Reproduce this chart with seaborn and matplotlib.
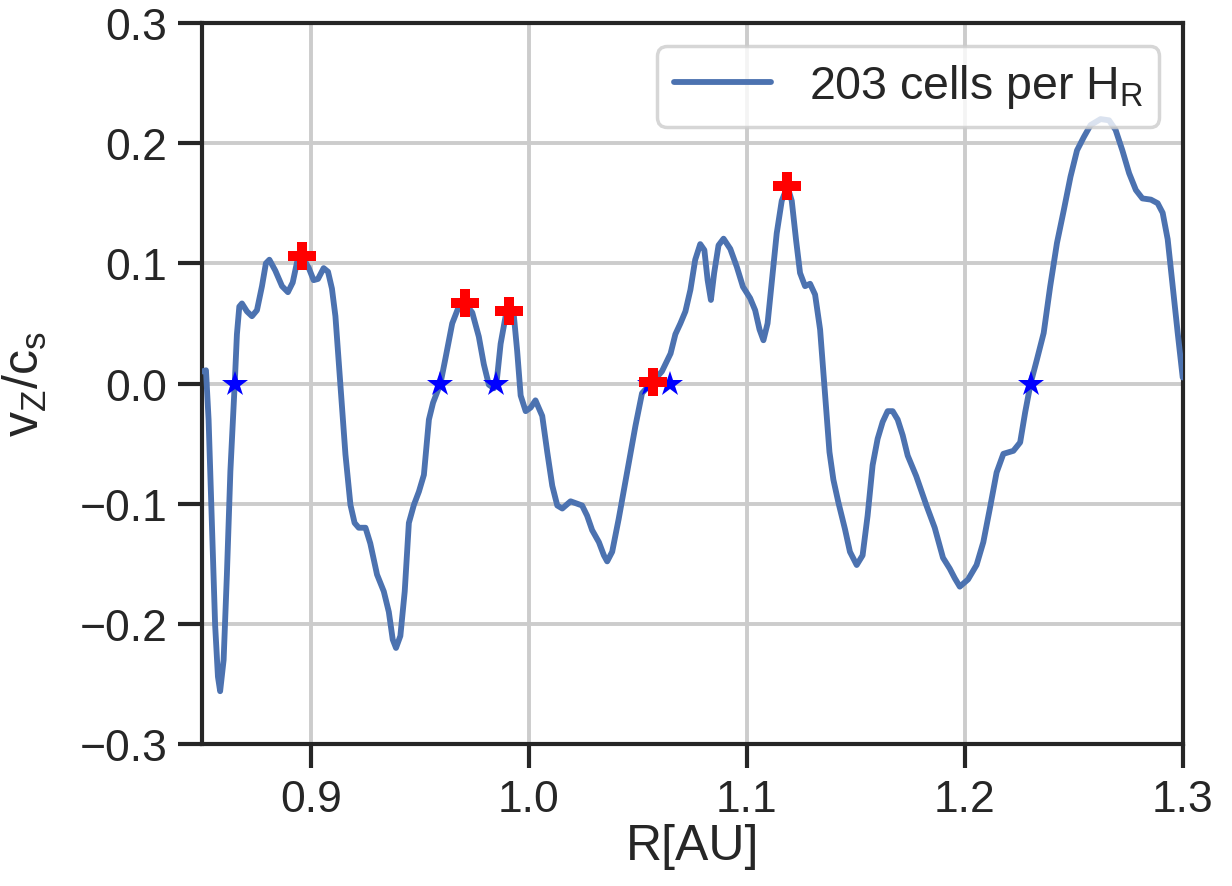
import numpy as np
import pandas as pd
import matplotlib
matplotlib.use("Agg")
import matplotlib.pyplot as plt
import seaborn as sns

# Vertical velocity profile (v_Z / c_s) along R
R = [0.8500, 0.8518, 0.8530, 0.8545, 0.8560, 0.8573, 0.8583, 0.8599, 0.8614, 0.8630,
     0.8650, 0.8660, 0.8671, 0.8683, 0.8706, 0.8729, 0.8752, 0.8775, 0.8793, 0.8809,
     0.8836, 0.8867, 0.8894, 0.8916, 0.8936, 0.8959, 0.8990, 0.9012, 0.9032, 0.9058,
     0.9078, 0.9096, 0.9112, 0.9135, 0.9158, 0.9181, 0.9200, 0.9219, 0.9250, 0.9272,
     0.9303, 0.9334, 0.9357, 0.9375, 0.9390, 0.9410, 0.9430, 0.9449, 0.9472, 0.9495,
     0.9518, 0.9541, 0.9560, 0.9594, 0.9617, 0.9648, 0.9678, 0.9706, 0.9740, 0.9770,
     0.9793, 0.9816, 0.9839, 0.9851, 0.9870, 0.9893, 0.9908, 0.9931, 0.9946, 0.9962,
     0.9985, 1.0008, 1.0030, 1.0061, 1.0084, 1.0107, 1.0130, 1.0153, 1.0191, 1.0244,
     1.0267, 1.0290, 1.0321, 1.0344, 1.0359, 1.0382, 1.0412, 1.0450, 1.0489, 1.0519,
     1.0560, 1.0610, 1.0650, 1.0672, 1.0695, 1.0718, 1.0741, 1.0763, 1.0786, 1.0805,
     1.0820, 1.0835, 1.0850, 1.0870, 1.0893, 1.0924, 1.0954, 1.0982, 1.1015, 1.1038,
     1.1058, 1.1076, 1.1095, 1.1115, 1.1137, 1.1160, 1.1186, 1.1206, 1.1226, 1.1244,
     1.1267, 1.1290, 1.1313, 1.1336, 1.1359, 1.1379, 1.1397, 1.1420, 1.1450, 1.1473,
     1.1504, 1.1531, 1.1554, 1.1577, 1.1600, 1.1623, 1.1646, 1.1669, 1.1692, 1.1715,
     1.1738, 1.1777, 1.1823, 1.1862, 1.1900, 1.1931, 1.1954, 1.1977, 1.2015, 1.2054,
     1.2085, 1.2115, 1.2146, 1.2177, 1.2223, 1.2254, 1.2277, 1.2302, 1.2331, 1.2362,
     1.2392, 1.2423, 1.2454, 1.2485, 1.2515, 1.2546, 1.2577, 1.2623, 1.2662, 1.2692,
     1.2723, 1.2754, 1.2785, 1.2815, 1.2854, 1.2885, 1.2908, 1.2931, 1.2954, 1.2977,
     1.3000]

vz = [0.010, 0.011, -0.030, -0.116, -0.201, -0.244, -0.256, -0.230, -0.159, -0.073,
      0.000, 0.041, 0.064, 0.0666, 0.060, 0.056, 0.061, 0.081, 0.100, 0.103,
      0.094, 0.081, 0.076, 0.084, 0.101, 0.106, 0.096, 0.086, 0.087, 0.096,
      0.093, 0.079, 0.056, -0.001, -0.059, -0.101, -0.116, -0.120, -0.120, -0.133,
      -0.159, -0.173, -0.190, -0.213, -0.220, -0.210, -0.173, -0.116, -0.101, -0.090,
      -0.076, -0.030, -0.016, 0.000, 0.021, 0.050, 0.064, 0.067, 0.059, 0.039,
      0.016, -0.001, -0.004, 0.000, 0.033, 0.056, 0.061, 0.056, 0.027, -0.010,
      -0.023, -0.020, -0.014, -0.027, -0.057, -0.085, -0.1015, -0.104, -0.098, -0.1015,
      -0.110, -0.122, -0.132, -0.143, -0.148, -0.140, -0.1125, -0.074, -0.035, -0.008,
      0.000, 0.010, 0.025, 0.041, 0.050, 0.060, 0.078, 0.103, 0.116, 0.111,
      0.086, 0.0695, 0.092, 0.115, 0.1205, 0.112, 0.097, 0.0805, 0.071, 0.061,
      0.045, 0.036, 0.050, 0.086, 0.125, 0.152, 0.164, 0.152, 0.119, 0.092,
      0.081, 0.083, 0.074, 0.045, -0.010, -0.057, -0.080, -0.099, -0.121, -0.140,
      -0.151, -0.143, -0.110, -0.068, -0.046, -0.032, -0.023, -0.023, -0.030, -0.043,
      -0.060, -0.077, -0.101, -0.120, -0.145, -0.154, -0.162, -0.169, -0.163, -0.151,
      -0.132, -0.104, -0.074, -0.0585, -0.056, -0.049, -0.024, 0.000, 0.020, 0.042,
      0.081, 0.117, 0.144, 0.172, 0.194, 0.205, 0.215, 0.220, 0.219, 0.211,
      0.194, 0.175, 0.161, 0.154, 0.153, 0.150, 0.142, 0.120, 0.081, 0.042,
      0.005]

# Zero crossings (stars) and local maxima (plus markers)
zero_R = [0.8650, 0.9594, 0.9851, 1.0555, 1.0649, 1.2302]
zero_vz = [0.0, 0.0, 0.0, 0.0, 0.0, 0.0]
peak_R = [0.8959, 0.9706, 0.9908, 1.0569, 1.1186]
peak_vz = [0.1057, 0.0666, 0.0606, 0.0010, 0.1640]

x_ticks = [0.9, 1.0, 1.1, 1.2, 1.3]
y_ticks = [-0.3, -0.2, -0.1, 0.0, 0.1, 0.2, 0.3]

sns.set_theme(style="ticks")
plt.rcParams["font.family"] = ["Liberation Sans", "DejaVu Sans"]
plt.rcParams["mathtext.default"] = "regular"
plt.rcParams["axes.unicode_minus"] = True

fig = plt.figure(figsize=(12.32, 8.87), dpi=100)
ax = fig.add_axes([0.164, 0.160, 0.796, 0.813])

profile = pd.DataFrame({"R": R, "vz": vz})
sns.lineplot(data=profile, x="R", y="vz", ax=ax, color="#4c72b0", linewidth=4.2,
             label=r"203 cells per H$_R$", sort=False, zorder=3,
             solid_joinstyle="round", solid_capstyle="round")

ax.plot(zero_R, zero_vz, linestyle="none", marker="*", markersize=19,
        color="blue", markeredgewidth=0, zorder=4)
ax.plot(peak_R, peak_vz, linestyle="none", marker="P", markersize=20,
        color="red", markeredgewidth=0, zorder=5)

ax.set_xlim(0.85, 1.3)
ax.set_ylim(-0.3, 0.3)
ax.set_xticks(x_ticks)
ax.set_yticks(y_ticks)
ax.set_xticklabels([f"{t:.1f}" for t in x_ticks])
ax.set_yticklabels([f"{t:.1f}".replace("-", "\u2212") for t in y_ticks])

ax.grid(True, color="#cccccc", linewidth=2.8, zorder=0)
ax.set_axisbelow(True)
for sp in ax.spines.values():
    sp.set_linewidth(3.0)
    sp.set_color("#262626")
ax.tick_params(axis="both", which="major", length=17, width=3.0, color="#262626",
               labelsize=32, pad=8, labelcolor="#262626")

ax.set_xlabel("R[AU]", fontsize=36, color="#262626", labelpad=2)
ax.set_ylabel(r"$v_Z/c_s$", fontsize=36, color="#262626", labelpad=22)

leg = ax.legend(loc="upper right", fontsize=33.5, frameon=True, borderpad=0.35,
                handlelength=2.1, bbox_to_anchor=(1.0, 1.0))
leg.get_frame().set_edgecolor("#cccccc")
leg.get_frame().set_linewidth(2.5)
for line in leg.get_lines():
    line.set_linewidth(4.2)

fig.savefig("out.png", dpi=100)
